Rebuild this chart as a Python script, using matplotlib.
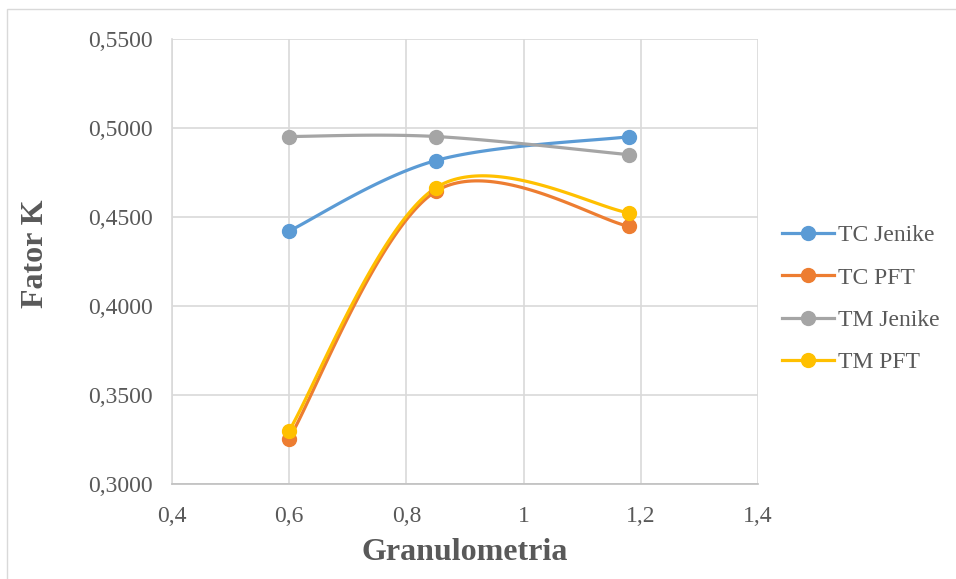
import numpy as np
import matplotlib
matplotlib.use("Agg")
import matplotlib.pyplot as plt
from matplotlib.patches import Rectangle
from matplotlib.ticker import FuncFormatter, MultipleLocator

# data
granulometria = [0.6, 0.85, 1.18]
tc_jenike = [0.4420, 0.4815, 0.4949]
tc_pft = [0.3255, 0.4642, 0.4446]
tm_jenike = [0.4950, 0.4950, 0.4848]
tm_pft = [0.3300, 0.4662, 0.4522]

series_names = ["TC Jenike", "TC PFT", "TM Jenike", "TM PFT"]
series_colors = ["#5b9bd5", "#ed7d31", "#a5a5a5", "#ffc000"]


def smooth(xs, ys, n=60):
    # excel-like smoothed line (catmull-rom bezier through the points)
    p = np.column_stack([xs, ys]).astype(float)
    p = np.vstack([p[0], p, p[-1]])
    out = []
    for i in range(1, len(p) - 2):
        p0, p1, p2, p3 = p[i - 1], p[i], p[i + 1], p[i + 2]
        c1 = p1 + (p2 - p0) / 6.0
        c2 = p2 - (p3 - p1) / 6.0
        t = np.linspace(0, 1, n)[:, None]
        seg = ((1 - t) ** 3) * p1 + 3 * ((1 - t) ** 2) * t * c1 + 3 * (1 - t) * t ** 2 * c2 + t ** 3 * p2
        out.append(seg)
    out = np.vstack(out)
    return out[:, 0], out[:, 1]


plt.rcParams['font.family'] = ['Liberation Serif', 'DejaVu Serif']
txt = "#595959"

fig = plt.figure(figsize=(9.56, 5.79), dpi=100)
fig.patches.append(Rectangle((7 / 956, -0.01), 1.2, 1 - 9 / 579 + 0.01, transform=fig.transFigure,
                             fill=False, edgecolor="#d9d9d9", linewidth=1.0))
ax = fig.add_axes([172 / 956, (579 - 484) / 579, 586 / 956, 445.5 / 579])

all_y = [tc_jenike, tc_pft, tm_jenike, tm_pft]
for name, col, ys in zip(series_names, series_colors, all_y):
    sx, sy = smooth(granulometria, ys)
    ax.plot(sx, sy, color=col, lw=2.3, solid_capstyle='round', zorder=3)
    ax.plot(granulometria, ys, 'o', color=col, ms=10, zorder=4)
    # legend proxy
    ax.plot([], [], '-o', color=col, lw=2.3, ms=10, label=name)

ax.set_xlim(0.4, 1.4)
ax.set_ylim(0.30, 0.55)
ax.xaxis.set_major_locator(MultipleLocator(0.2))
ax.yaxis.set_major_locator(MultipleLocator(0.05))
ax.xaxis.set_major_formatter(FuncFormatter(lambda v, p: ("%g" % round(v, 1)).replace('.', ',')))
ax.yaxis.set_major_formatter(FuncFormatter(lambda v, p: ("%.4f" % v).replace('.', ',')))
ax.grid(True, color="#d9d9d9", lw=1.2)
ax.set_axisbelow(True)
for s in ['top', 'right']:
    ax.spines[s].set_visible(False)
ax.spines['left'].set_color("#d9d9d9")
ax.spines['left'].set_linewidth(1.2)
ax.spines['bottom'].set_color("#bfbfbf")
ax.spines['bottom'].set_linewidth(1.2)
ax.tick_params(length=0, labelsize=17, colors=txt)
ax.tick_params(axis='y', pad=14)
ax.tick_params(axis='x', pad=16)

ax.set_xlabel("Granulometria", fontsize=23, fontweight='bold', color=txt, labelpad=8)
ax.set_ylabel("Fator K", fontsize=23, fontweight='bold', color=txt)
ax.yaxis.set_label_coords(-0.208, 0.518)

ax.legend(loc='center left', bbox_to_anchor=(761 / 956, (579 - 299) / 579), bbox_transform=fig.transFigure,
          frameon=False, fontsize=17, labelcolor=txt, handlelength=2.2, handletextpad=0.15,
          labelspacing=0.88)

fig.savefig("out.png", dpi=100)
